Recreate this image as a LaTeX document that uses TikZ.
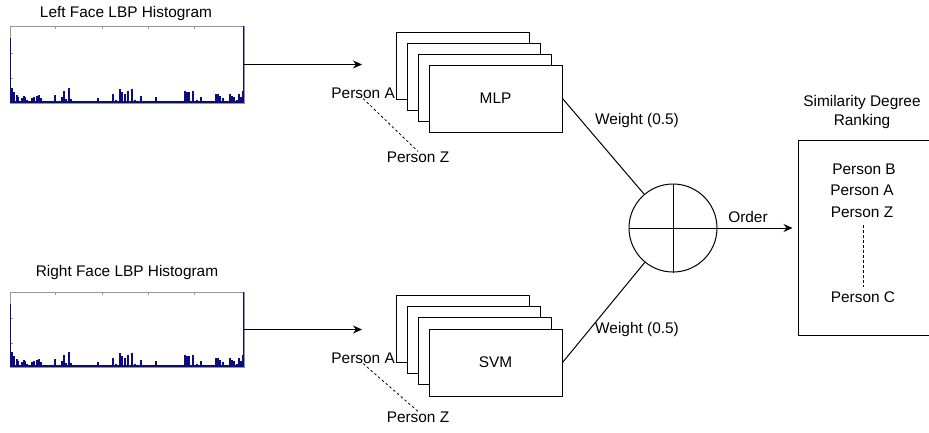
\documentclass[tikz,border=0pt]{standalone}
\usepackage{fontspec}
\setmainfont{Liberation Sans}
\usetikzlibrary{arrows.meta}
\definecolor{navy}{RGB}{12,12,128}
\definecolor{framegray}{RGB}{150,150,150}
\newcommand\histbars[2]{%
  \foreach \bx/\bh in {1/15,3/11,6/8,7/6,11/5,13/7,14/6,16/3,18/2,21/5,23/6,26/7,28/8,30/5,37/2,44/8,49/2,51/6,53/12,55/4,58/15,60/4,64/2,70/1,75/2,87/5,93/2,102/9,105/3,109/14,111/11,114/9,117/12,121/14,124/3,130/7,135/1,145/6,150/1,160/1,174/12,176/11,178/11,182/12,186/3,190/6,195/1,200/1,205/9,207/9,209/7,212/5,216/2,219/9,221/7,223/6,226/3,228/9,230/6,232/12}{%
    \fill[navy] ({#1+\bx},{#2}) rectangle ++(2.2,{-\bh});
  }%
  \fill[navy] ({#1},{#2}) rectangle ++(234,-2);
}
\begin{document}
\begin{tikzpicture}[x=1pt,y=-1pt,
  every node/.style={font=\fontsize{15.4}{18.5}\selectfont, inner sep=0pt},
  conn/.style={line width=1pt},
  arr/.style={line width=1pt,-{Stealth[length=9pt,width=8pt]}},
  stackbox/.style={draw, line width=1pt, fill=white, minimum width=133pt, minimum height=67pt},
  hframe/.style={draw=framegray, line width=0.6pt, minimum width=234pt, minimum height=77pt},
  dotted line/.style={line width=0.8pt, dash pattern=on 2.5pt off 2.5pt}
]
\useasboundingbox (0,0) rectangle (929,432);
\fill[white] (0,0) rectangle (929,432);

% ---------- histograms ----------
\node[hframe] (h1) at (127,64.5) {};
\node (t1) at (126,14) {Left Face LBP Histogram};
\foreach \tx in {55,102,148,194} \draw[framegray,line width=0.6pt] (\tx,26) -- ++(0,3);
\foreach \ty in {53,78} \draw[framegray,line width=0.6pt] (10,\ty) -- ++(3,0);
\histbars{10}{103}
\draw[navy,line width=1.4pt] (10.7,38) -- (10.7,103);
\draw[navy,line width=1.2pt] (243.5,26) -- (243.5,103);

\node[hframe, minimum height=75pt] (h2) at (127,329.5) {};
\node (t2) at (127,273) {Right Face LBP Histogram};
\foreach \tx in {55,102,148,194} \draw[framegray,line width=0.6pt] (\tx,292) -- ++(0,3);
\foreach \ty in {318,343} \draw[framegray,line width=0.6pt] (10,\ty) -- ++(3,0);
\histbars{10}{367}
\draw[navy,line width=1.4pt] (10.7,304) -- (10.7,367);
\draw[navy,line width=1.2pt] (243.5,292) -- (243.5,367);

% ---------- MLP stack ----------
\node[stackbox] (m1) at (462.5,65.5) {};
\node[stackbox] (m2) at (473.5,76.5) {};
\node[stackbox] (m3) at (484.5,87.5) {};
\node[stackbox] (mlp) at (495.5,98.5) {MLP};
\node[anchor=east] (pa1) at (395,93) {Person A};
\node (pz1) at (418,157) {Person Z};
\draw[dotted line] (pa1.south) -- (pz1.north);
\coordinate (e1) at (362,64.5);
\draw[arr] (h1.east) -- (e1);

% ---------- SVM stack ----------
\node[stackbox] (s1) at (462.5,328.5) {};
\node[stackbox] (s2) at (473.5,339.5) {};
\node[stackbox] (s3) at (484.5,350.5) {};
\node[stackbox] (svm) at (495.5,362.5) {SVM};
\node[anchor=east] (pa2) at (395,358) {Person A};
\node (pz2) at (418,417) {Person Z};
\draw[dotted line] (pa2.south) -- (pz2.north);
\coordinate (e2) at (362,329.5);
\draw[arr] (h2.east) -- (e2);

% ---------- fusion ----------
\node[draw, circle, line width=1pt, minimum size=88pt] (sum) at (673,228) {};
\draw[conn] (sum.north) -- (sum.south);
\draw[conn] (sum.west) -- (sum.east);
\draw[conn] (mlp.east) -- (sum);
\draw[conn] (svm.east) -- (sum);
\node (w1) at (637,121) {Weight (0.5)};
\node (w2) at (637,330) {Weight (0.5)};

% ---------- ranking ----------
\node[draw, line width=1pt, minimum width=142pt, minimum height=195pt] (rank) at (869,237.5) {};
\node[align=center] (rt) at (862,112) {Similarity Degree\\Ranking};
\draw[arr] (sum.east) -- ([xshift=-5pt]sum.east -| rank.west);
\node (ord) at (748,217) {Order};
\node (pb) at (864,169) {Person B};
\node (pa) at (862,190) {Person A};
\node (pz) at (862,212) {Person Z};
\node (pc) at (863,297) {Person C};
\coordinate (d1) at (863,225);
\coordinate (d2) at (863,287);
\draw[line width=0.8pt, dash pattern=on 3pt off 2pt] (d1) -- (d2);
\end{tikzpicture}
\end{document}
